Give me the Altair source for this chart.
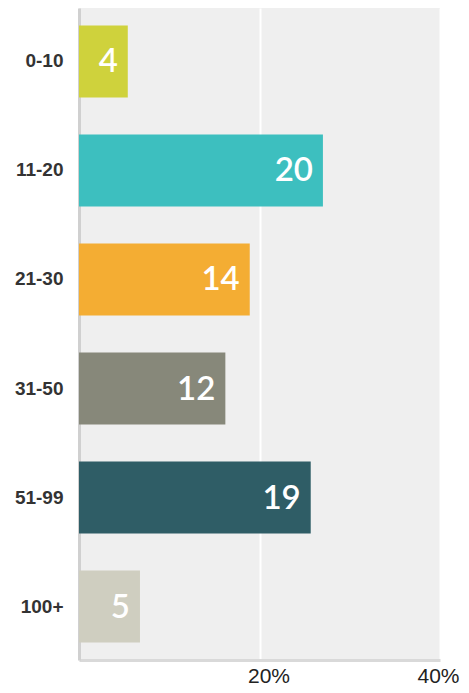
import altair as alt
import pandas as pd

categories = ["0-10", "11-20", "21-30", "31-50", "51-99", "100+"]
counts = [4, 20, 14, 12, 19, 5]
colors = ["#cfd23c", "#3dbfbf", "#f4ad33", "#87887a", "#2f5d66", "#cfcec0"]
x_ticks = [20, 40]

df = pd.DataFrame({"cat": categories, "count": counts})

base = alt.Chart(df).transform_joinaggregate(
    total="sum(count)"
).transform_calculate(
    pct="datum.count / datum.total * 100"
)

y_enc = alt.Y("cat:N", sort=categories, title=None,
              scale=alt.Scale(paddingInner=0.34, paddingOuter=0.16),
              axis=alt.Axis(labelFont="Liberation Sans", labelFontWeight="bold",
                            labelFontSize=19, labelColor="#333333", labelPadding=16,
                            ticks=False, domainColor="#d0d0d0", domainWidth=3,
                            grid=False))
x_enc = alt.X("pct:Q", title=None,
              scale=alt.Scale(domain=[0, 40], nice=False),
              axis=alt.Axis(values=x_ticks, labelExpr="datum.value + '%'",
                            labelFont="Liberation Sans", labelFontSize=21,
                            labelColor="#222222", labelPadding=5,
                            labelOffset={"condition": {"test": "datum.value == 40", "value": -2},
                                         "value": 9},
                            labelFlush=False,
                            ticks=False, domainColor="#d9d9d9", domainWidth=3,
                            gridColor="#ffffff", gridWidth=2))

bars = base.mark_bar().encode(
    y=y_enc, x=x_enc,
    color=alt.Color("cat:N", sort=categories,
                    scale=alt.Scale(domain=categories, range=colors), legend=None),
)

labels = base.mark_text(align="right", baseline="middle", dx=-10, dy=1,
                        color="white", fontSize=33, font="Lato", fontWeight=600).encode(
    y=alt.Y("cat:N", sort=categories), x="pct:Q", text="count:Q"
)

chart = (bars + labels).properties(
    width=361, height=652,
    background="white",
    autosize=alt.AutoSizeParams(type="none"),
    padding={"left": 71, "top": 0, "right": 21, "bottom": 27},
).configure_view(fill="#efefef", stroke=None)

chart.save("out.html", embed_options={"renderer": "svg", "actions": False})
